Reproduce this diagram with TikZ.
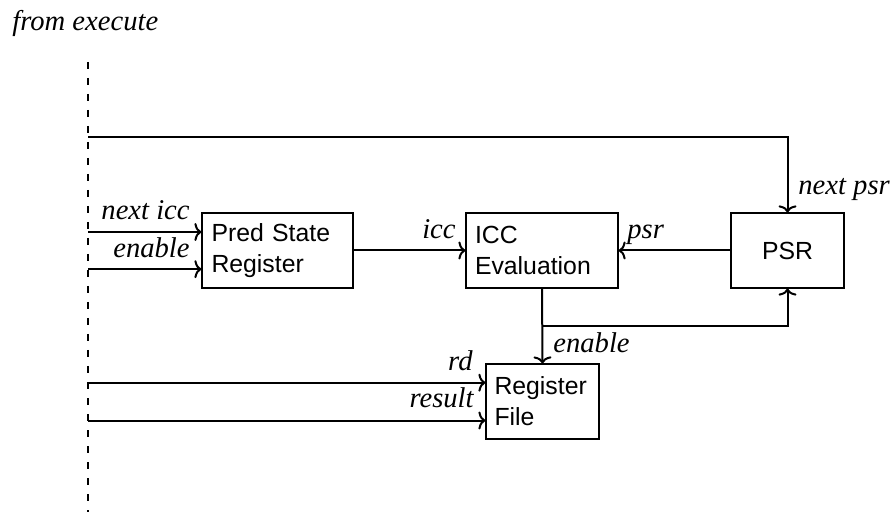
\documentclass[tikz,border=0pt]{standalone}
\usepackage{fontspec}
\setmainfont{Liberation Serif}
\setsansfont{Liberation Sans}
\usetikzlibrary{arrows.meta}
\begin{document}
\begin{tikzpicture}[x=0.5pt,y=-0.5pt,
  blk/.style={draw,line width=0.6pt,minimum height=37.5pt,inner sep=0pt,
    font=\sffamily\fontsize{12.4pt}{15.5pt}\selectfont,align=left},
  arr/.style={line width=1pt,-{To[length=3.5pt,width=9pt,line width=1pt]}},
  lbl/.style={font=\itshape\fontsize{14.3pt}{16pt}\selectfont,inner sep=0pt}]
\useasboundingbox (0,0) rectangle (892,512);
\node[lbl,anchor=base west] (fe) at (12,31) {from execute};
\draw[line width=0.6pt,dash pattern=on 3.5pt off 4.5pt] (88,62) -- (88,512);

\node[blk,minimum width=75.5pt,text width=66pt] (pred) at (277.5,250.5) {Pred State\\Register};
\node[blk,minimum width=76pt,text width=67pt] (icc) at (542,250.5) {ICC\\Evaluation};
\node[blk,minimum width=56.5pt,align=center] (psr) at (787.5,250.5) {PSR};
\node[blk,minimum width=56.5pt,text width=48pt] (rf) at (542.5,401.5) {Register\\File};

\coordinate (a1) at (88,232);
\coordinate (a2) at (88,269.2);
\coordinate (a3) at (88,382.7);
\coordinate (a4) at (88,420.5);
\coordinate (t0) at (88,136.7);
\draw[arr] (a1) -- (pred.west |- a1);
\draw[arr] (a2) -- (pred.west |- a2);
\draw[arr] (a3) -- (rf.west |- a3);
\draw[arr] (a4) -- (rf.west |- a4);
\draw[arr] (t0) -| (psr.north);
\draw[arr] (pred.east) -- (icc.west);
\draw[arr] (psr.west) -- (icc.east);
\draw[arr] (icc.south) -- (rf.north);
\coordinate (br) at (542,326);
\draw[arr] (br) -| (psr.south);

\node[lbl,anchor=base east] (l1) at (190,220) {next icc};
\node[lbl,anchor=base east] (l2) at (190,258) {enable};
\node[lbl,anchor=base east] (l3) at (456,239) {icc};
\node[lbl,anchor=base west] (l4) at (627,239) {psr};
\node[lbl,anchor=base west] (l5) at (798,195) {next psr};
\node[lbl,anchor=base west] (l6) at (553,352) {enable};
\node[lbl,anchor=base east] (l7) at (473,371) {rd};
\node[lbl,anchor=base east] (l8) at (474,408) {result};
\end{tikzpicture}
\end{document}
